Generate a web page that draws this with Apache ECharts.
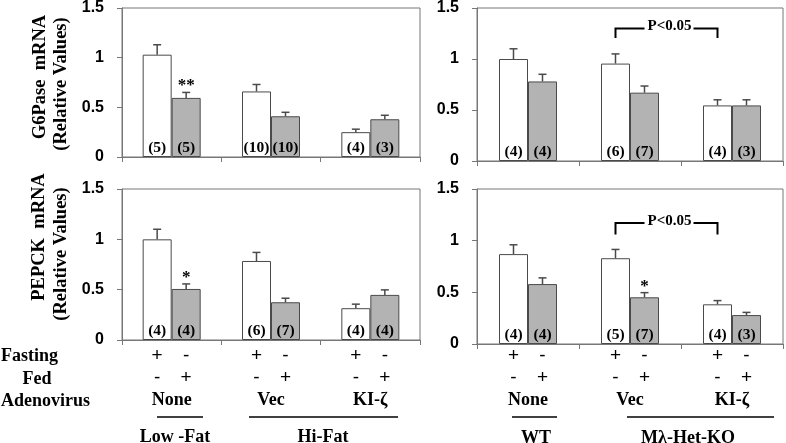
<!DOCTYPE html>
<html>
<head>
<meta charset="utf-8">
<script src="https://cdn.jsdelivr.net/npm/echarts@6/dist/echarts.min.js"></script>
<style>html,body{margin:0;padding:0;background:#fff;}#c{width:786px;height:443px;}</style>
</head>
<body>
<div id="c"></div>
<script>
// ---- data ----
const groups = ['None', 'Vec', 'KI-ζ'];
const yTicks = [0, 0.5, 1, 1.5];

// G6Pase, left (Low-Fat / Hi-Fat)
const g6LeftFast = [1.03, 0.66, 0.25];
const g6LeftFastSem = [0.10, 0.07, 0.03];
const g6LeftFed = [0.595, 0.41, 0.38];
const g6LeftFedSem = [0.055, 0.04, 0.04];
const g6LeftFastN = [5, 10, 4];
const g6LeftFedN = [5, 10, 3];

// G6Pase, right (WT / Mλ-Het-KO)
const g6RightFast = [1.0, 0.955, 0.545];
const g6RightFastSem = [0.10, 0.095, 0.055];
const g6RightFed = [0.78, 0.67, 0.545];
const g6RightFedSem = [0.07, 0.065, 0.055];
const g6RightFastN = [4, 6, 4];
const g6RightFedN = [4, 7, 3];

// PEPCK, left
const pepLeftFast = [1.0, 0.785, 0.316];
const pepLeftFastSem = [0.10, 0.085, 0.04];
const pepLeftFed = [0.507, 0.375, 0.448];
const pepLeftFedSem = [0.05, 0.04, 0.05];
const pepLeftFastN = [4, 6, 4];
const pepLeftFedN = [4, 7, 4];

// PEPCK, right
const pepRightFast = [0.87, 0.83, 0.384];
const pepRightFastSem = [0.09, 0.085, 0.036];
const pepRightFed = [0.58, 0.452, 0.28];
const pepRightFedSem = [0.06, 0.045, 0.026];
const pepRightFastN = [4, 5, 4];
const pepRightFedN = [4, 7, 3];

// significance marks: [groupIndex, text]  (on Fed bar)
const g6LeftStars = [[0, '**']];
const pepLeftStars = [[0, '*']];
const pepRightStars = [[1, '*']];
// brackets: [fromGroup, toGroup, yTop, yEnd, text]
const g6RightBracket = [[1, 2, 1.30, 1.205, 'P<0.05']];
const pepRightBracket = [[1, 2, 1.17, 1.06, 'P<0.05']];

// ---- style ----
const BAR_W = 29;
const AXIS_C = '#777';
const BORDER_C = '#4a4a4a';
const GRAY = '#b3b3b3';
const SERIF = '"Liberation Serif", "Times New Roman", serif';
const SANS = '"Liberation Sans", Arial, sans-serif';

const grids = [
  { left: 122, top: 6, width: 298, height: 151 },
  { left: 477, top: 7, width: 306, height: 154 },
  { left: 122, top: 189, width: 298, height: 151 },
  { left: 477, top: 189, width: 306, height: 155 }
];

const panels = [
  { fast: g6LeftFast, fastSem: g6LeftFastSem, fed: g6LeftFed, fedSem: g6LeftFedSem, fastN: g6LeftFastN, fedN: g6LeftFedN, stars: g6LeftStars, bracket: [], labels: false, margin: 5 },
  { fast: g6RightFast, fastSem: g6RightFastSem, fed: g6RightFed, fedSem: g6RightFedSem, fastN: g6RightFastN, fedN: g6RightFedN, stars: [], bracket: g6RightBracket, labels: false, margin: 1 },
  { fast: pepLeftFast, fastSem: pepLeftFastSem, fed: pepLeftFed, fedSem: pepLeftFedSem, fastN: pepLeftFastN, fedN: pepLeftFedN, stars: pepLeftStars, bracket: [], labels: true, margin: 5 },
  { fast: pepRightFast, fastSem: pepRightFastSem, fed: pepRightFed, fedSem: pepRightFedSem, fastN: pepRightFastN, fedN: pepRightFedN, stars: pepRightStars, bracket: pepRightBracket, labels: true, margin: 1 }
];

const xAxes = [], yAxes = [], series = [];

panels.forEach((p, i) => {
  xAxes.push({
    type: 'category', gridIndex: i, data: groups,
    axisLine: { lineStyle: { color: AXIS_C, width: 1 } },
    axisTick: { show: true, length: 5, lineStyle: { color: AXIS_C } },
    axisLabel: p.labels ? {
      show: true, interval: 0, margin: p.margin,
      formatter: v => '{s|+}{s|-}\n{s|-}{s|+}\n{g|' + v + '}',
      rich: {
        s: { width: BAR_W, align: 'center', fontFamily: SANS, fontSize: 19, lineHeight: 22, color: '#000' },
        g: { fontFamily: SERIF, fontWeight: 'bold', fontSize: 18, lineHeight: 22, color: '#000' }
      }
    } : { show: false },
    splitLine: { show: false }
  });
  yAxes.push({
    type: 'value', gridIndex: i, min: yTicks[0], max: yTicks[yTicks.length - 1], interval: 0.5,
    axisLine: { show: true, lineStyle: { color: AXIS_C, width: 1 } },
    axisTick: { show: true, length: 5, lineStyle: { color: AXIS_C } },
    axisLabel: { margin: 18, fontFamily: SANS, fontWeight: 'bold', fontSize: 16, color: '#000' },
    splitLine: { show: false }
  });
  const mkBar = (vals, ns, color, name) => ({
    type: 'bar', name, xAxisIndex: i, yAxisIndex: i, data: vals,
    barWidth: BAR_W, barGap: '0%',
    itemStyle: { color, borderColor: BORDER_C, borderWidth: 1 },
    label: {
      show: true, position: 'insideBottom', distance: 1,
      formatter: q => '(' + ns[q.dataIndex] + ')',
      fontFamily: SERIF, fontWeight: 'bold', fontSize: 15.5, color: '#000'
    },
    silent: true, animation: false
  });
  series.push(mkBar(p.fast, p.fastN, '#ffffff', 'Fasting'));
  series.push(mkBar(p.fed, p.fedN, GRAY, 'Fed'));

  const errData = [];
  p.fast.forEach((v, k) => errData.push([k, v, p.fastSem[k], -1]));
  p.fed.forEach((v, k) => errData.push([k, v, p.fedSem[k], 1]));
  series.push({
    type: 'custom', xAxisIndex: i, yAxisIndex: i, data: errData, z: 5,
    encode: { x: 0, y: 1 }, silent: true, animation: false,
    renderItem: (params, api) => {
      const side = api.value(3);
      const b = api.coord([api.value(0), api.value(1)]);
      const t = api.coord([api.value(0), api.value(1) + api.value(2)]);
      const x = b[0] + side * BAR_W / 2;
      const st = { stroke: BORDER_C, lineWidth: 1.5 };
      return { type: 'group', children: [
        { type: 'line', shape: { x1: x, y1: b[1], x2: x, y2: t[1] }, style: st },
        { type: 'line', shape: { x1: x - 4, y1: t[1], x2: x + 4, y2: t[1] }, style: st }
      ] };
    }
  });

  if (p.stars.length) {
    series.push({
      type: 'custom', xAxisIndex: i, yAxisIndex: i, z: 6, silent: true, animation: false,
      data: p.stars.map(s => [s[0], p.fed[s[0]] + p.fedSem[s[0]], s[1]]),
      encode: { x: 0, y: 1 },
      renderItem: (params, api) => {
        const d = p.stars[params.dataIndex];
        const c = api.coord([api.value(0), api.value(1)]);
        return { type: 'text', style: {
          text: d[1], x: c[0] + BAR_W / 2, y: c[1] + 2, align: 'center', verticalAlign: 'bottom',
          font: 'bold 17px ' + SERIF, fill: '#000'
        } };
      }
    });
  }
  if (p.bracket.length) {
    series.push({
      type: 'custom', xAxisIndex: i, yAxisIndex: i, z: 6, silent: true, animation: false,
      data: p.bracket.map(b => [b[0], b[1], b[2], b[3]]),
      encode: { x: [0, 1], y: [2, 3] },
      renderItem: (params, api) => {
        const d = p.bracket[params.dataIndex];
        const a = api.coord([api.value(0), api.value(2)]);
        const bb = api.coord([api.value(1), api.value(2)]);
        const e = api.coord([api.value(0), api.value(3)]);
        const x1 = a[0] - BAR_W / 2, x2 = bb[0] - BAR_W / 2;
        const mid = (x1 + x2) / 2 + 3;
        const st = { stroke: '#000', lineWidth: 2 };
        return { type: 'group', children: [
          { type: 'polyline', shape: { points: [[x1, e[1]], [x1, a[1]], [mid - 25, a[1]]] }, style: Object.assign({ fill: null }, st) },
          { type: 'polyline', shape: { points: [[mid + 24, a[1]], [x2, a[1]], [x2, e[1]]] }, style: Object.assign({ fill: null }, st) },
          { type: 'text', style: { text: d[4], x: mid, y: a[1] - 2, align: 'center', verticalAlign: 'middle',
            font: 'bold 15px ' + SERIF, fill: '#000' } }
        ] };
      }
    });
  }
});

const txt = (text, x, y, align, size, extra) => Object.assign({
  type: 'text', x, y, silent: true,
  style: { text, align: align, verticalAlign: 'middle', font: 'bold ' + size + 'px ' + SERIF, fill: '#000' }
}, extra || {});
const line = (x1, x2, y) => ({ type: 'line', silent: true, shape: { x1, y1: y, x2, y2: y }, style: { stroke: '#000', lineWidth: 1.5 } });

const graphic = [
  txt('G6Pase  mRNA', 40, 77, 'center', 18.5, { rotation: Math.PI / 2 }),
  txt('(Relative Values)', 61, 84, 'center', 18.5, { rotation: Math.PI / 2 }),
  txt('PEPCK  mRNA', 39, 237, 'center', 18.5, { rotation: Math.PI / 2 }),
  txt('(Relative Values)', 61, 254, 'center', 18.5, { rotation: Math.PI / 2 }),
  txt('Fasting', 1, 356, 'left', 18),
  txt('Fed', 37, 379, 'center', 18),
  txt('Adenovirus', 1, 401, 'left', 18),
  line(157, 203, 417), line(249, 398, 417), line(512, 557, 417), line(627, 774, 417),
  txt('Low -Fat', 175, 437, 'center', 18),
  txt('Hi-Fat', 323, 437, 'center', 18),
  txt('WT', 536, 438, 'center', 18),
  txt('Mλ-Het-KO', 688, 438, 'center', 18)
];

const chart = echarts.init(document.getElementById('c'), null, { renderer: 'canvas' });
chart.setOption({
  animation: false,
  backgroundColor: '#fff',
  grid: grids.map(g => Object.assign({ show: true, borderColor: AXIS_C, borderWidth: 1, backgroundColor: 'transparent' }, g)),
  xAxis: xAxes,
  yAxis: yAxes,
  series,
  graphic
});
</script>
</body>
</html>
